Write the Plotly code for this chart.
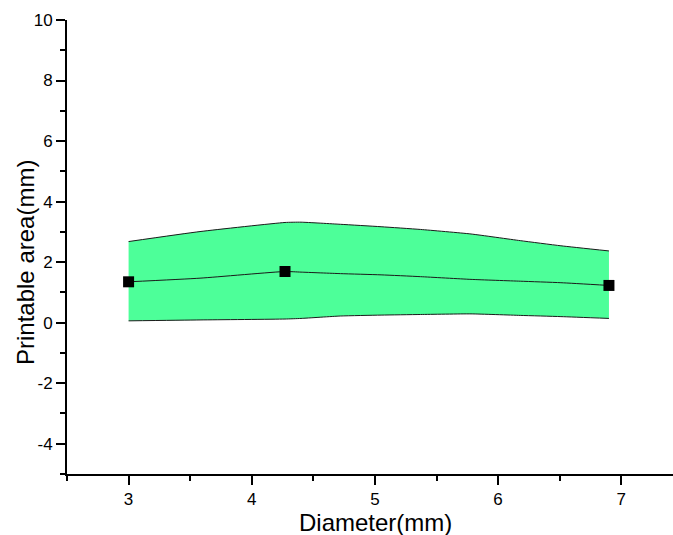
import plotly.graph_objects as go

# Data points (markers)
diameter = [3.0, 4.27, 6.9]
printable = [1.35, 1.69, 1.23]

# Band
band_x = [3.0, 3.58, 4.27, 4.40, 4.72, 5.05, 5.37, 5.78, 6.18, 6.51, 6.90]
band_upper = [2.68, 3.01, 3.31, 3.32, 3.25, 3.17, 3.08, 2.93, 2.71, 2.54, 2.37]
band_lower = [0.06, 0.09, 0.12, 0.14, 0.22, 0.25, 0.27, 0.29, 0.24, 0.20, 0.14]
band_mid = [1.35, 1.47, 1.69, 1.67, 1.62, 1.58, 1.52, 1.43, 1.37, 1.32, 1.23]

y_tickvals = [-4, -2, 0, 2, 4, 6, 8, 10]
y_ticktext = ["-4", "-2", "0", "2", "4", "6", "8", "10"]
x_tickvals = [3, 4, 5, 6, 7]
x_ticktext = ["3", "4", "5", "6", "7"]

x_title = "Diameter(mm)"
y_title = "Printable area(mm)"

fill_color = "rgb(77,255,153)"
font_family = "Liberation Sans, Arial, sans-serif"

W, H = 673, 535
L, R, T, B = 67, 0, 20, 61
PW, PH = W - L - R, H - T - B


def px_x(page_x):
    return (page_x - L) / PW


def px_y(page_y):
    return (H - B - page_y) / PH


fig = go.Figure()
line_style = dict(color="#1a1a1a", width=1, shape="spline", smoothing=0.5)
fig.add_trace(go.Scatter(x=band_x, y=band_lower, mode="lines", line=line_style,
                         showlegend=False, hoverinfo="skip"))
fig.add_trace(go.Scatter(x=band_x, y=band_upper, mode="lines", fill="tonexty",
                         fillcolor=fill_color, line=line_style,
                         showlegend=False, hoverinfo="skip"))
fig.add_trace(go.Scatter(x=band_x, y=band_mid, mode="lines", line=line_style,
                         showlegend=False, hoverinfo="skip"))
fig.add_trace(go.Scatter(x=diameter, y=printable, mode="markers",
                         marker=dict(symbol="square", size=11, color="black"),
                         showlegend=False))

axis_common = dict(
    showline=True, linecolor="black", linewidth=2,
    ticks="outside", ticklen=9, tickwidth=2, tickcolor="black",
    showgrid=False, zeroline=False, automargin=False,
    tickfont=dict(family=font_family, size=17, color="black"),
)

fig.update_xaxes(range=[2.5, 7.42], tickmode="array", tickvals=x_tickvals, ticktext=x_ticktext,
                 minor=dict(ticks="outside", ticklen=5, tickwidth=2, tickcolor="black",
                            tickmode="linear", dtick=0.5, tick0=2.5),
                 **axis_common)
fig.update_yaxes(range=[-5, 10], tickmode="array", tickvals=y_tickvals, ticktext=y_ticktext,
                 minor=dict(ticks="outside", ticklen=5, tickwidth=2, tickcolor="black",
                            tickmode="linear", dtick=1, tick0=-5),
                 **axis_common)

fig.add_annotation(text=x_title, xref="paper", yref="paper",
                   x=px_x(375), y=px_y(522),
                   xanchor="center", yanchor="middle", showarrow=False,
                   font=dict(family=font_family, size=24, color="black"))
fig.add_annotation(text=y_title, xref="paper", yref="paper",
                   x=px_x(25), y=px_y(263), textangle=-90,
                   xanchor="center", yanchor="middle", showarrow=False,
                   font=dict(family=font_family, size=24, color="black"))

fig.update_layout(
    width=W, height=H,
    margin=dict(l=L, r=R, t=T, b=B),
    plot_bgcolor="white", paper_bgcolor="white",
    font=dict(family=font_family, color="black"),
)

fig.write_html("out.html",
               config={"displayModeBar": False},
               post_script="document.body.style.margin='0';document.body.style.overflow='hidden';")
